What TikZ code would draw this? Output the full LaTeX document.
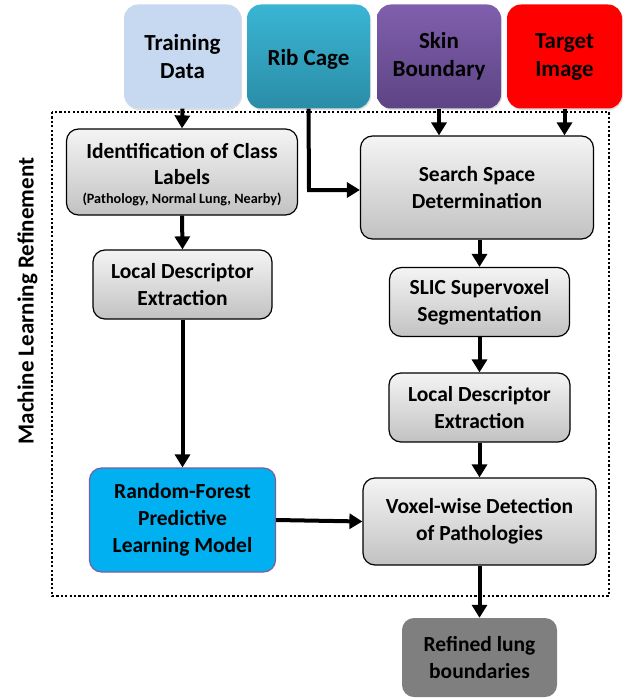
\documentclass[tikz,border=0pt]{standalone}
\usepackage{fontspec}
\setmainfont{Carlito}
\usetikzlibrary{arrows.meta,shadows}
\definecolor{tdfill}{HTML}{C6D9F1}
\definecolor{rctop}{HTML}{3AB5D4}
\definecolor{rcbot}{HTML}{2A8DA7}
\definecolor{sbtop}{HTML}{805FAD}
\definecolor{sbbot}{HTML}{5D4484}
\definecolor{greytop}{HTML}{F4F4F4}
\definecolor{greybot}{HTML}{C2C2C2}
\definecolor{rffill}{HTML}{00B0F0}
\definecolor{rfborder}{HTML}{7B5E9E}
\definecolor{rlfill}{HTML}{7F7F7F}
\newcommand{\lowstrut}{\rule{0pt}{21pt}}
\begin{document}
\begin{tikzpicture}[x=1pt,y=-1pt,
  txt/.style={font=\bfseries\fontsize{21.5}{27}\selectfont, align=center, inner sep=0pt, execute at begin node=\lowstrut},
  topbox/.style={txt, font=\bfseries\fontsize{23}{28}\selectfont, rounded corners=14pt, draw=none, drop shadow={shadow xshift=1pt,shadow yshift=-1.5pt,opacity=0.25}},
  greybox/.style={txt, rounded corners=12pt, draw=black, line width=1.2pt, top color=greytop, bottom color=greybot},
  arr/.style={line width=4pt, -{Triangle[length=13pt,width=15pt]}},
  frame/.style={line width=2.5pt, dash pattern=on 2.2pt off 2.2pt}
]
\useasboundingbox (0,0) rectangle (624,698);

% top input boxes
\node[topbox, fill=tdfill, minimum width=117pt, minimum height=104pt] (td) at (182.5,56.5) {Training\\Data};
\node[topbox, top color=rctop, bottom color=rcbot, minimum width=123pt, minimum height=104pt] (rc) at (308.5,56.5) {Rib Cage};
\node[topbox, top color=sbtop, bottom color=sbbot, minimum width=124pt, minimum height=104pt] (sb) at (439,56.5) {Skin\\Boundary};
\node[topbox, fill=red, minimum width=115pt, minimum height=104pt] (ti) at (564.5,56.5) {Target\\Image};

% frame
\draw[frame] (52,112) rectangle (609,596);
\node[font=\bfseries\fontsize{23}{27}\selectfont, rotate=90, inner sep=0pt] (mlr) at (27.5,301) {Machine Learning Refinement};

% left column
\node[greybox, minimum width=231pt, minimum height=86pt, execute at begin node={}] (id) at (182,172)
  {\rule{0pt}{20pt}Identification of Class\\[-1pt]Labels\\[-8pt]{\fontsize{14.2}{17}\selectfont (Pathology, Normal Lung, Nearby)}};
\node[greybox, minimum width=179pt, minimum height=69pt] (ld1) at (182.5,284.5) {Local Descriptor\\Extraction};
\node[txt, rounded corners=12pt, draw=rfborder, line width=1.2pt, fill=rffill, minimum width=186pt, minimum height=104pt] (rf) at (182.5,520) {Random-Forest\\Predictive\\Learning Model};

% right column
\node[greybox, minimum width=233pt, minimum height=103pt] (ss) at (477,187.5) {Search Space\\Determination};
\node[greybox, minimum width=180pt, minimum height=69pt] (slic) at (479.5,302) {SLIC Supervoxel\\Segmentation};
\node[greybox, minimum width=181pt, minimum height=69pt] (ld2) at (479.5,407.5) {Local Descriptor\\Extraction};
\node[greybox, minimum width=233pt, minimum height=87pt] (vw) at (479.5,521.5) {Voxel-wise Detection\\of Pathologies};
\node[txt, rounded corners=12pt, fill=rlfill, minimum width=155pt, minimum height=79pt, execute at begin node={}] (rl) at (479.5,657.5) {Refined lung\\boundaries};

% connectors
\draw[arr] (td.south) -- (id.north);
\draw[arr] (id.south) -- (ld1.north);
\draw[arr] (ld1.south) -- (rf.north);
\coordinate (rcturn) at (309,190);
\draw[arr] (rc.south) -- (rcturn) -- (rcturn -| ss.west);
\draw[arr] (sb.south) -- (sb.south |- ss.north);
\draw[arr] (ti.south) -- (ti.south |- ss.north);
\draw[arr] (ss.south -| slic.north) -- (slic.north);
\draw[arr] (slic.south) -- (ld2.north);
\draw[arr] (ld2.south) -- (vw.north);
\draw[arr] (rf.east) -- (vw.west);
\draw[arr] (vw.south) -- (rl.north);
\end{tikzpicture}
\end{document}
